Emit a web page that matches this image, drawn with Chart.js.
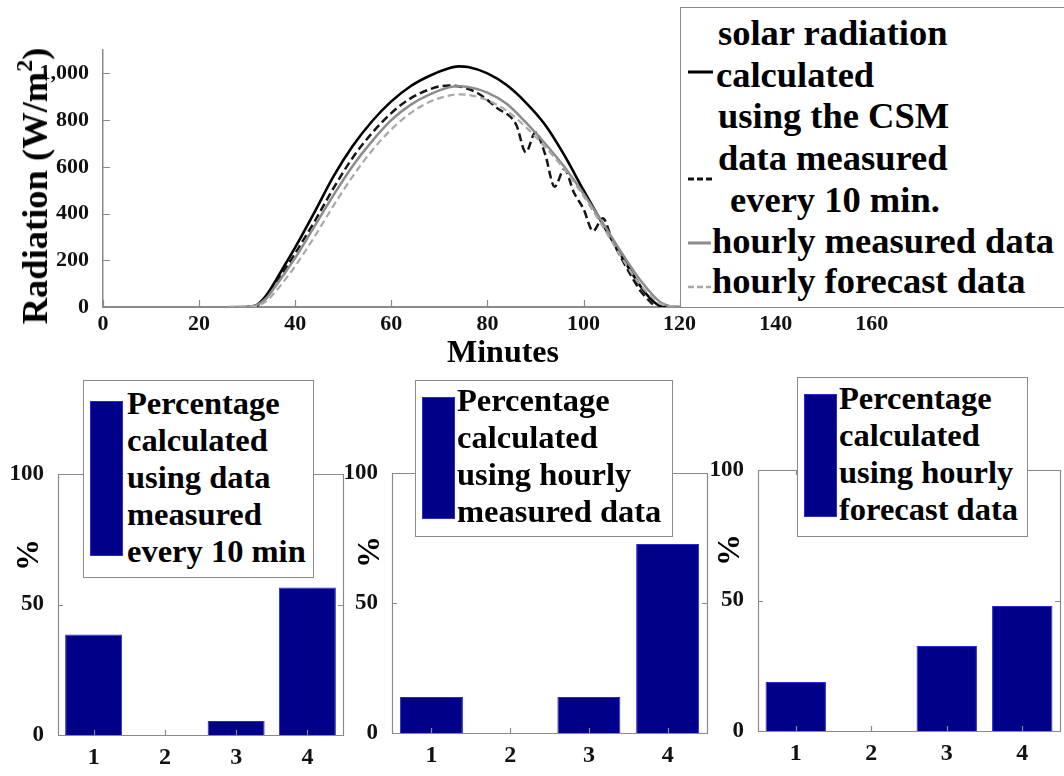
<!DOCTYPE html>
<html>
<head>
<meta charset="utf-8">
<title>Radiation and percentages</title>
<script src="https://cdn.jsdelivr.net/npm/chart.js@4.4.0/dist/chart.umd.min.js"></script>
<style>
  body { margin: 0; background: #fff; }
  #page { position: relative; width: 1064px; height: 776px; overflow: hidden;
          font-family: 'Liberation Serif', 'Times New Roman', serif; font-weight: bold; color: #000; }
  canvas { position: absolute; }
  .lbl { position: absolute; white-space: nowrap; }
  .box { position: absolute; background: #fff; border: 1.5px solid #8a8a8a; box-sizing: border-box; }
  .top-leg { font-size: 36.5px; line-height: 42px; }
  .bar-leg { position: absolute; font-size: 32.5px; line-height: 37px; white-space: nowrap; }
  .swatch { position: absolute; background: #000088; border: 1px solid #2a2ad0; box-sizing: border-box; }
  .rot { transform: translate(-50%, -50%) rotate(-90deg); }
  .sup { position: relative; top: -0.62em; font-size: 24px; }
</style>
</head>
<body>
<div id="page">
  <canvas id="radChart" width="1064" height="370" style="left:0;top:0"></canvas>
  <canvas id="bar1" width="345" height="406" style="left:0;top:370px"></canvas>
  <canvas id="bar2" width="365" height="406" style="left:345px;top:370px"></canvas>
  <canvas id="bar3" width="354" height="406" style="left:710px;top:370px"></canvas>

  <!-- axis titles -->
  <div class="lbl rot" style="left:37px;top:186px;font-size:36.5px;line-height:40px">Radiation (W/m<span class="sup">2</span>)</div>
  <div class="lbl" style="left:503px;top:335px;font-size:32px;line-height:32px;transform:translateX(-50%)">Minutes</div>
  <div class="lbl rot" style="left:27px;top:555px;font-size:32px;line-height:32px">%</div>
  <div class="lbl rot" style="left:368px;top:552px;font-size:32px;line-height:32px">%</div>
  <div class="lbl rot" style="left:728px;top:550px;font-size:32px;line-height:32px">%</div>

  <!-- legend of the radiation chart -->
  <div class="box" style="left:680px;top:7px;width:400px;height:301px"></div>
  <svg class="lbl" style="left:686px;top:66px" width="30" height="12"><line x1="2" y1="6" x2="27" y2="6" stroke="#000" stroke-width="3"/></svg>
  <svg class="lbl" style="left:686px;top:173px" width="30" height="12"><line x1="2" y1="6" x2="27" y2="6" stroke="#111" stroke-width="3" stroke-dasharray="6,3"/></svg>
  <svg class="lbl" style="left:686px;top:237px" width="30" height="12"><line x1="2" y1="6" x2="25" y2="6" stroke="#8c8c8c" stroke-width="3"/></svg>
  <svg class="lbl" style="left:686px;top:281px" width="30" height="12"><line x1="2" y1="6" x2="25" y2="6" stroke="#a8a8a8" stroke-width="2.5" stroke-dasharray="6,3"/></svg>
  <div class="lbl top-leg" style="left:718px;top:12px">solar radiation</div>
  <div class="lbl top-leg" style="left:716px;top:54px">calculated</div>
  <div class="lbl top-leg" style="left:718px;top:95px">using the CSM</div>
  <div class="lbl top-leg" style="left:718px;top:137px">data measured</div>
  <div class="lbl top-leg" style="left:730px;top:179px">every 10 min.</div>
  <div class="lbl top-leg" style="left:712px;top:220px">hourly measured data</div>
  <div class="lbl top-leg" style="left:712px;top:260px">hourly forecast data</div>

  <!-- legends of the bar charts -->
  <div class="box" style="left:83px;top:380px;width:231px;height:198px"></div>
  <div class="swatch" style="left:90px;top:401px;width:33px;height:155px"></div>
  <div class="bar-leg" style="left:127px;top:385px">Percentage<br>calculated<br>using data<br>measured<br>every 10 min</div>

  <div class="box" style="left:415px;top:380px;width:258px;height:157px"></div>
  <div class="swatch" style="left:422px;top:397px;width:33px;height:122px"></div>
  <div class="bar-leg" style="left:457px;top:382px">Percentage<br>calculated<br>using hourly<br>measured data</div>

  <div class="box" style="left:797px;top:377px;width:231px;height:160px"></div>
  <div class="swatch" style="left:804px;top:394px;width:33px;height:123px"></div>
  <div class="bar-leg" style="left:839px;top:380px">Percentage<br>calculated<br>using hourly<br>forecast data</div>
</div>

<script>
// radiation curves (minutes, W/m2)
const csmMinutes = [30, 31, 32, 34, 36, 38, 40, 44, 48, 52, 56, 60, 64, 68, 72, 74, 76, 80, 84, 88, 92, 96, 100, 104, 108, 112, 114, 116, 117, 120];
const csmRadiation = [0, 2, 8, 50, 115, 185, 255, 405, 560, 690, 795, 880, 945, 990, 1022, 1030, 1027, 1000, 950, 875, 780, 650, 500, 355, 215, 85, 35, 3, 0, 0];

const tenMinMinutes = [31, 32, 34, 36, 38, 40, 44, 48, 52, 56, 60, 64, 68, 70, 72, 74, 78, 82, 86, 88, 90, 92, 94, 96, 98, 100, 102, 104, 106, 108, 110, 112, 114, 115];
const tenMinRadiation = [0, 5, 40, 100, 165, 230, 365, 510, 640, 745, 830, 893, 932, 944, 948, 945, 915, 852, 780, 662, 747, 655, 515, 590, 490, 420, 325, 380, 285, 205, 130, 65, 20, 0];

const hourlyMinutes = [26, 30, 32, 34, 36, 38, 40, 44, 48, 52, 56, 60, 64, 68, 72, 74, 76, 80, 84, 88, 92, 96, 100, 104, 108, 112, 116, 118, 120];
const hourlyMeasured = [0, 2, 8, 38, 92, 150, 210, 345, 480, 605, 710, 800, 865, 910, 940, 945, 942, 918, 870, 790, 700, 600, 485, 360, 230, 110, 20, 3, 0];
const hourlyForecast = [0, 2, 5, 25, 68, 120, 175, 300, 435, 560, 670, 760, 830, 878, 905, 910, 908, 885, 840, 770, 685, 590, 475, 345, 210, 90, 15, 3, 0];

// percentages for the bar charts
const barCategories = ['1', '2', '3', '4'];
const pct10min = [38.5, 0, 5.4, 56.5];
const pctHourlyMeasured = [13.8, 0, 13.8, 72.7];
const pctHourlyForecast = [18.8, 0, 32.6, 47.9];

const SERIF = "'Liberation Serif', 'Times New Roman', serif";
const AXIS_GREY = '#8a8a8a';

function toPoints(xs, ys) {
    return xs.map((x, i) => ({ x: x, y: ys[i] }));
}

// matlab style ticks pointing into the plot, plus an optional closed box
const innerTicks = {
    id: 'innerTicks',
    afterDatasetsDraw(chart, args, opts) {
        const ctx = chart.ctx;
        const a = chart.chartArea;
        const x = chart.scales.x, y = chart.scales.y;
        const len = opts.length || 6;
        ctx.save();
        ctx.strokeStyle = AXIS_GREY;
        ctx.lineWidth = 1.2;
        ctx.beginPath();
        x.ticks.forEach((t, i) => {
            const px = Math.round(x.getPixelForTick(i)) + 0.5;
            ctx.moveTo(px, a.bottom);
            ctx.lineTo(px, a.bottom - len);
            if (opts.box) {
                ctx.moveTo(px, a.top);
                ctx.lineTo(px, a.top + len);
            }
        });
        y.ticks.forEach((t, i) => {
            const py = Math.round(y.getPixelForTick(i)) + 0.5;
            ctx.moveTo(a.left, py);
            ctx.lineTo(a.left + len, py);
            if (opts.box) {
                ctx.moveTo(a.right, py);
                ctx.lineTo(a.right - len, py);
            }
        });
        if (opts.box) {
            ctx.rect(Math.round(a.left) + 0.5, Math.round(a.top) + 0.5, Math.round(a.width), Math.round(a.height));
        }
        ctx.stroke();
        ctx.restore();
    }
};

Chart.defaults.font.family = SERIF;
Chart.defaults.font.weight = 'bold';
Chart.defaults.color = '#000';

// top chart: radiation over the day
new Chart(document.getElementById('radChart'), {
    type: 'line',
    data: {
        datasets: [
            { label: 'hourly forecast data', data: toPoints(hourlyMinutes, hourlyForecast),
              borderColor: '#a8a8a8', borderWidth: 2.2, borderDash: [7, 4] },
            { label: 'hourly measured data', data: toPoints(hourlyMinutes, hourlyMeasured),
              borderColor: '#8c8c8c', borderWidth: 2.5 },
            { label: 'data measured every 10 min.', data: toPoints(tenMinMinutes, tenMinRadiation),
              borderColor: '#151515', borderWidth: 2.5, borderDash: [8, 4] },
            { label: 'solar radiation calculated using the CSM', data: toPoints(csmMinutes, csmRadiation),
              borderColor: '#000', borderWidth: 2.6 }
        ]
    },
    options: {
        responsive: false,
        devicePixelRatio: 1,
        animation: false,
        layout: { padding: { top: 50, right: 0, bottom: 0, left: 0 } },
        elements: { point: { radius: 0 }, line: { cubicInterpolationMode: 'monotone', fill: false } },
        plugins: { legend: { display: false }, tooltip: { enabled: false }, innerTicks: { length: 7 } },
        scales: {
            x: {
                type: 'linear', min: 0, max: 200,
                ticks: { stepSize: 20, padding: -4, maxRotation: 0, font: { size: 22, weight: 'bold' }, color: '#111' },
                afterBuildTicks: s => { s.ticks = s.ticks.filter(t => t.value <= 160); },
                afterFit: s => { s.height = 63; },
                grid: { display: false },
                border: { color: AXIS_GREY, width: 2 }
            },
            y: {
                min: 0, max: 1100,
                ticks: { stepSize: 200, includeBounds: false, padding: 6, font: { size: 22, weight: 'bold' }, color: '#111' },
                afterFit: s => { s.width = 103; },
                grid: { display: false },
                border: { color: AXIS_GREY, width: 1.5 }
            }
        }
    },
    plugins: [innerTicks]
});

// bottom charts: percentages per class
function makeBarChart(id, values, yWidth, padRight, padTop, xHeight) {
    return new Chart(document.getElementById(id), {
        type: 'bar',
        data: {
            labels: barCategories,
            datasets: [{
                data: values,
                backgroundColor: '#000088',
                borderColor: '#2a2ad0',
                borderWidth: 1,
                categoryPercentage: 0.8,
                barPercentage: 1.0
            }]
        },
        options: {
            responsive: false,
            devicePixelRatio: 1,
            animation: false,
            layout: { padding: { top: padTop, right: padRight, bottom: 0, left: 0 } },
            plugins: { legend: { display: false }, tooltip: { enabled: false }, innerTicks: { length: 5, box: true } },
            scales: {
                x: {
                    ticks: { padding: 0, font: { size: 24, weight: 'bold' }, color: '#111' },
                    afterFit: s => { s.height = xHeight; },
                    grid: { display: false },
                    border: { display: false }
                },
                y: {
                    min: 0, max: 100,
                    ticks: { stepSize: 50, padding: 6, font: { size: 23, weight: 'bold' }, color: '#111' },
                    afterFit: s => { s.width = yWidth; },
                    grid: { display: false },
                    border: { display: false }
                }
            }
        },
        plugins: [innerTicks]
    });
}

makeBarChart('bar1', pct10min, 58, 2, 104, 41);
makeBarChart('bar2', pctHourlyMeasured, 47, 3, 103, 43);
makeBarChart('bar3', pctHourlyForecast, 48, 4, 100, 45);
</script>
</body>
</html>
